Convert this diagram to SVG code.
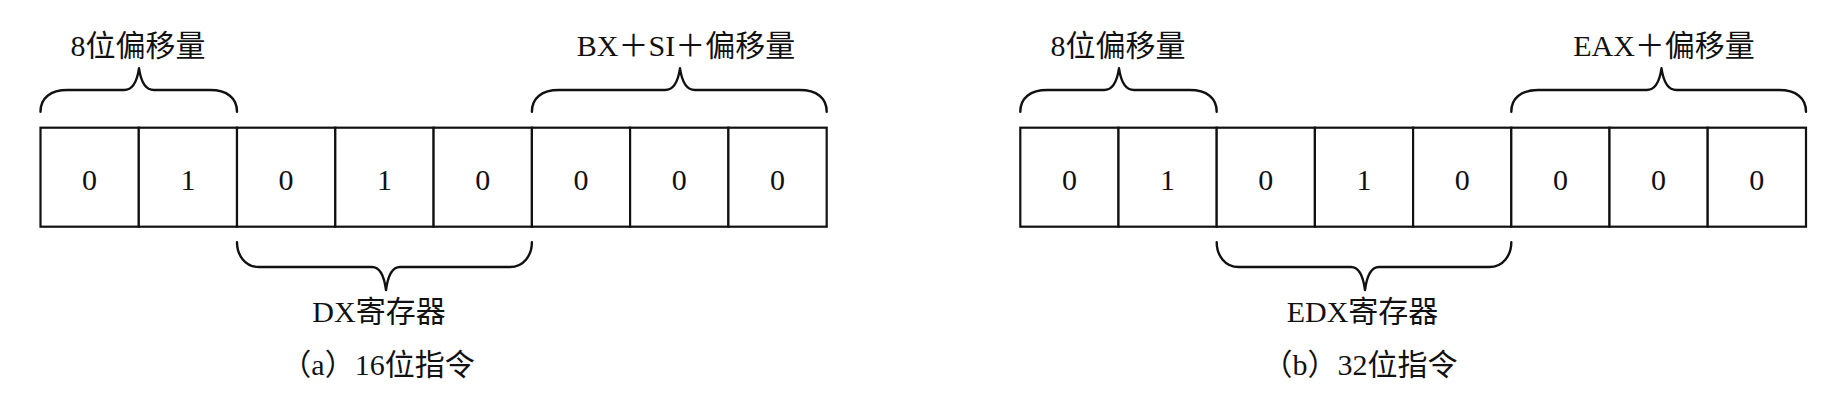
<svg xmlns="http://www.w3.org/2000/svg" width="1848" height="402" viewBox="0 0 1848 402">
<style>
.cell{fill:#fff;stroke:#111;stroke-width:2.2}
.brace{fill:none;stroke:#111;stroke-width:2.4;stroke-linecap:round;stroke-linejoin:round}
.t{font-family:'Liberation Serif','Noto Sans CJK SC',serif;font-size:30px;fill:#111;text-anchor:middle}
.n{font-family:'Liberation Serif',serif;font-size:30px;fill:#111;text-anchor:middle}
</style>
<rect width="1848" height="402" fill="#fff"/>
<g id="diagram-a">
  <g id="a-cell-0"><rect class="cell" x="40.5" y="127.7" width="98.3" height="99"/><text class="n" x="89.6" y="189.5">0</text></g>
  <g id="a-cell-1"><rect class="cell" x="138.8" y="127.7" width="98.2" height="99"/><text class="n" x="187.9" y="189.5">1</text></g>
  <g id="a-cell-2"><rect class="cell" x="237" y="127.7" width="98.3" height="99"/><text class="n" x="286.1" y="189.5">0</text></g>
  <g id="a-cell-3"><rect class="cell" x="335.3" y="127.7" width="98.3" height="99"/><text class="n" x="384.4" y="189.5">1</text></g>
  <g id="a-cell-4"><rect class="cell" x="433.6" y="127.7" width="98.3" height="99"/><text class="n" x="482.7" y="189.5">0</text></g>
  <g id="a-cell-5"><rect class="cell" x="531.9" y="127.7" width="98.2" height="99"/><text class="n" x="581" y="189.5">0</text></g>
  <g id="a-cell-6"><rect class="cell" x="630.1" y="127.7" width="98.3" height="99"/><text class="n" x="679.2" y="189.5">0</text></g>
  <g id="a-cell-7"><rect class="cell" x="728.4" y="127.7" width="98.3" height="99"/><text class="n" x="777.5" y="189.5">0</text></g>
  <g id="a-label-offset8"><text class="t" x="138" y="56">8位偏移量</text></g>
  <g id="a-label-bxsi"><text class="t" x="686" y="56">BX＋SI＋偏移量</text></g>
  <g id="a-label-dx"><text class="t" x="379" y="322">DX寄存器</text></g>
  <g id="a-caption"><text class="t" x="378" y="375">（a）16位指令</text></g>
</g>
<g id="diagram-b">
  <g id="b-cell-0"><rect class="cell" x="1020.3" y="127.7" width="98.2" height="99"/><text class="n" x="1069.4" y="189.5">0</text></g>
  <g id="b-cell-1"><rect class="cell" x="1118.5" y="127.7" width="98.2" height="99"/><text class="n" x="1167.6" y="189.5">1</text></g>
  <g id="b-cell-2"><rect class="cell" x="1216.7" y="127.7" width="98.2" height="99"/><text class="n" x="1265.8" y="189.5">0</text></g>
  <g id="b-cell-3"><rect class="cell" x="1314.9" y="127.7" width="98.2" height="99"/><text class="n" x="1364" y="189.5">1</text></g>
  <g id="b-cell-4"><rect class="cell" x="1413.1" y="127.7" width="98.2" height="99"/><text class="n" x="1462.2" y="189.5">0</text></g>
  <g id="b-cell-5"><rect class="cell" x="1511.3" y="127.7" width="98.2" height="99"/><text class="n" x="1560.4" y="189.5">0</text></g>
  <g id="b-cell-6"><rect class="cell" x="1609.5" y="127.7" width="98.2" height="99"/><text class="n" x="1658.6" y="189.5">0</text></g>
  <g id="b-cell-7"><rect class="cell" x="1707.7" y="127.7" width="98.3" height="99"/><text class="n" x="1756.8" y="189.5">0</text></g>
  <g id="b-label-offset8"><text class="t" x="1118" y="56">8位偏移量</text></g>
  <g id="b-label-eax"><text class="t" x="1664" y="56">EAX＋偏移量</text></g>
  <g id="b-label-edx"><text class="t" x="1362.5" y="322">EDX寄存器</text></g>
  <g id="b-caption"><text class="t" x="1360" y="375">（b）32位指令</text></g>
</g>
<g id="connectors">
  <path class="brace" d="M 40.5 111.7 C 40.5 98 50.5 90 67.5 90 L 124 90 C 132 90 137 82 139 68.3 C 141 82 146 90 154 90 L 210 90 C 227 90 237 98 237 111.7"/>
  <path class="brace" d="M 531.9 111.7 C 531.9 98 541.9 90 558.9 90 L 665 90 C 673 90 678 82 680 68.3 C 682 82 687 90 695 90 L 799.7 90 C 816.7 90 826.7 98 826.7 111.7"/>
  <path class="brace" d="M 237 242.3 C 237 255 245 267 259 267 L 372 267 C 380 267 384 275 386 290 C 388 275 392 267 400 267 L 509.9 267 C 523.9 267 531.9 255 531.9 242.3"/>
  <path class="brace" d="M 1020.3 111.7 C 1020.3 98 1030.3 90 1047.3 90 L 1104 90 C 1112 90 1117 82 1119 68.3 C 1121 82 1126 90 1134 90 L 1189.7 90 C 1206.7 90 1216.7 98 1216.7 111.7"/>
  <path class="brace" d="M 1511.3 111.7 C 1511.3 98 1521.3 90 1538.3 90 L 1646.5 90 C 1654.5 90 1659.5 82 1661.5 68.3 C 1663.5 82 1668.5 90 1676.5 90 L 1779 90 C 1796 90 1806 98 1806 111.7"/>
  <path class="brace" d="M 1216.7 242.3 C 1216.7 255 1224.7 267 1238.7 267 L 1351 267 C 1359 267 1363 275 1365 290 C 1367 275 1371 267 1379 267 L 1489.3 267 C 1503.3 267 1511.3 255 1511.3 242.3"/>
</g>
</svg>
